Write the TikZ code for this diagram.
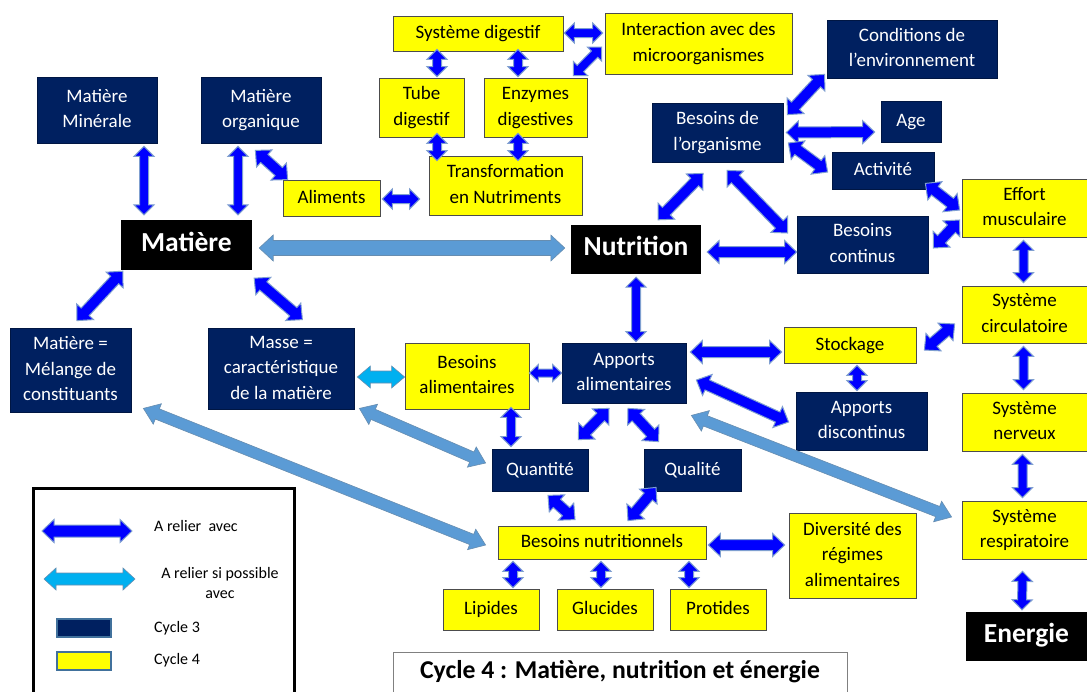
\documentclass[tikz,border=0pt]{standalone}
\usepackage{fontspec}
\setmainfont{Carlito}
\usetikzlibrary{calc}

\definecolor{navy}{HTML}{002060}
\definecolor{yel}{HTML}{FFFF00}
\definecolor{linkblue}{HTML}{0000FF}
\definecolor{linkedge}{HTML}{7F9FD0}
\definecolor{steel}{HTML}{5B9BD5}
\definecolor{steeledge}{HTML}{41719C}
\definecolor{cyanlink}{HTML}{00B0F0}

% box given by its corners (x1,y1) (x2,y2); lines are set as a strut-spaced column
\newcommand\boxat[7]{%
  \pgfmathsetmacro\bxw{#5-#3}\pgfmathsetmacro\bxh{#6-#4}%
  \pgfmathsetmacro\bxx{(#3+#5)/2}\pgfmathsetmacro\bxy{(#4+#6)/2}%
  \node[#1, minimum width=\bxw pt, minimum height=\bxh pt] (#2) at (\bxx,\bxy)
    {\begin{tabular}{@{}c@{}}#7\end{tabular}};}

% block double arrow between two points: style, A, B, head length, shaft half width, head half width
\newcommand\dblarrow[6]{%
  \filldraw[#1] (#2)
    -- ($(#2)!#4pt!(#3)!#6pt!90:(#3)$)
    -- ($(#2)!#4pt!(#3)!#5pt!90:(#3)$)
    -- ($(#3)!#4pt!(#2)!#5pt!-90:(#2)$)
    -- ($(#3)!#4pt!(#2)!#6pt!-90:(#2)$)
    -- (#3)
    -- ($(#3)!#4pt!(#2)!#6pt!90:(#2)$)
    -- ($(#3)!#4pt!(#2)!#5pt!90:(#2)$)
    -- ($(#2)!#4pt!(#3)!#5pt!-90:(#3)$)
    -- ($(#2)!#4pt!(#3)!#6pt!-90:(#3)$)
    -- cycle;}
\newcommand\linkA[2]{\dblarrow{blink}{#1}{#2}{10}{4.5}{10}}
\newcommand\linkB[2]{\dblarrow{blink}{#1}{#2}{12}{5.5}{11.5}}
\newcommand\linkS[2]{\dblarrow{slink}{#1}{#2}{15}{5.5}{11}}
\newcommand\linkM[2]{\dblarrow{slink}{#1}{#2}{14}{7.5}{13}}
\newcommand\linkC[2]{\dblarrow{clink}{#1}{#2}{13}{6}{11}}

\tikzset{
  box/.style={rectangle, inner sep=0pt, font=\fontsize{19}{25.5}\selectfont},
  c3/.style={box, fill=navy, draw=navy!70!black, text=white, line width=0.8pt},
  c4/.style={box, fill=yel, draw=black!70, text=black, line width=0.8pt},
  key/.style={box, fill=black, text=white, font=\fontsize{27.5}{30}\selectfont\bfseries},
  blink/.style={fill=linkblue, draw=linkedge, line width=1pt, line join=miter},
  slink/.style={fill=steel, draw=steeledge!80, line width=0.6pt, line join=miter},
  clink/.style={fill=cyanlink, draw=steeledge!80, line width=0.6pt, line join=miter},
  legtext/.style={inner sep=0pt, font=\fontsize{16}{20}\selectfont, align=center},
  swatch/.style={draw=steeledge, line width=1.3pt, minimum width=54pt, minimum height=18pt, inner sep=0pt}
}

\begin{document}
\begin{tikzpicture}[x=1pt,y=-1pt]
\fill[white] (0,0) rectangle (1087,691);
\useasboundingbox (0,0) rectangle (1087,691);

% ---- Matière
\boxat{c3}{minerale}{37}{77}{157}{143}{Matière\\Minérale}
\boxat{c3}{organique}{201}{77}{321}{143}{Matière\\organique}
\boxat{c4}{aliments}{283}{180}{380}{216}{Aliments}
\boxat{key}{matiere}{121}{220}{252}{270}{Matière}
\boxat{c3}{melange}{10}{328}{131}{412}{Matière =\\Mélange de\\constituants}
\boxat{c3}{masse}{208}{328}{354}{409}{Masse =\\caractéristique\\de la matière}

% ---- digestion
\boxat{c4}{sysdig}{393}{16}{563}{51}{Système digestif}
\boxat{c4}{interaction}{605}{13}{792}{74}{Interaction avec des\\microorganismes}
\boxat{c4}{tube}{379}{78}{464}{137}{Tube\\digestif}
\boxat{c4}{enzymes}{484}{78}{587}{137}{Enzymes\\digestives}
\boxat{c4}{transfo}{429}{156}{582}{215}{Transformation\\en Nutriments}

% ---- needs of the organism
\boxat{c3}{besorg}{652}{103}{783}{162}{Besoins de\\l’organisme}
\boxat{c3}{conditions}{827}{20}{997}{78}{Conditions de\\l’environnement}
\boxat{c3}{age}{881}{101}{941}{142}{Age}
\boxat{c3}{activite}{832}{152}{934}{189}{Activité}
\boxat{c3}{bescont}{797}{216}{928}{273}{Besoins\\continus}
\boxat{key}{nutrition}{571}{225}{701}{274}{Nutrition}

% ---- body systems and energy
\boxat{c4}{effort}{962}{179}{1087}{237}{Effort\\musculaire}
\boxat{c4}{circ}{962}{286}{1087}{343}{Système\\circulatoire}
\boxat{c4}{nerveux}{962}{393}{1087}{451}{Système\\nerveux}
\boxat{c4}{resp}{962}{501}{1087}{559}{Système\\respiratoire}
\boxat{key}{energie}{966}{612}{1087}{661}{Energie}

% ---- food intake
\boxat{c4}{stockage}{784}{327}{916}{363}{Stockage}
\boxat{c3}{discontinus}{796}{392}{927}{450}{Apports\\discontinus}
\boxat{c3}{apports}{562}{343}{686}{403}{Apports\\alimentaires}
\boxat{c4}{besalim}{405}{343}{529}{409}{Besoins\\alimentaires}
\boxat{c3}{quantite}{492}{449}{588}{491}{Quantité}
\boxat{c3}{qualite}{644}{449}{741}{491}{Qualité}
\boxat{c4}{besnut}{498}{526}{706}{559}{Besoins nutritionnels}
\boxat{c4}{diversite}{789}{513}{916}{598}{Diversité des\\régimes\\alimentaires}
\boxat{c4}{lipides}{443}{589}{539}{630}{Lipides}
\boxat{c4}{glucides}{557}{589}{653}{630}{Glucides}
\boxat{c4}{protides}{670}{589}{766}{630}{Protides}

% ---- title
\node[draw=black!50, line width=0.8pt, fill=white, minimum width=454pt, minimum height=40pt,
      inner sep=0pt, font=\fontsize{25.7}{28}\selectfont\bfseries] (title) at (620,672)
      {Cycle 4 : Matière, nutrition et énergie};

% ---- legend
\node[draw=black, line width=3pt, minimum width=261pt, minimum height=220pt, inner sep=0pt]
      (legend) at (163.5,598) {};
\coordinate (k1a) at (42,531);  \coordinate (k1b) at (132,531);
\coordinate (k2a) at (44,579);  \coordinate (k2b) at (135,579);
\dblarrow{blink}{k1a}{k1b}{12}{6}{11.5}
\dblarrow{clink}{k2a}{k2b}{12}{6}{11}
\node[legtext, anchor=west] (t1) at (154,526) {A relier\ \ avec};
\node[legtext] (t2) at (220,583) {A relier si possible\\avec};
\node[swatch, fill=navy] (s3) at (84,628) {};
\node[swatch, fill=yel] (s4) at (84,661) {};
\node[legtext, anchor=west] (t3) at (154,628) {Cycle 3};
\node[legtext, anchor=west] (t4) at (154,660) {Cycle 4};

% ---- connectors: matter
\linkA{[xshift=47pt,yshift=-3pt]minerale.south}{[xshift=-42.5pt,yshift=5pt]matiere.north}
\linkA{[xshift=-23pt,yshift=-3pt]organique.south}{[xshift=51.5pt,yshift=5pt]matiere.north}
\linkB{[xshift=-66pt,yshift=-7pt]organique.south east}{[xshift=5pt]aliments.north west}
\linkA{[xshift=2pt,yshift=-1pt]aliments.east}{[xshift=-9pt,yshift=-13.5pt]transfo.west}
\linkB{[xshift=2pt,yshift=-1pt]matiere.south west}{[xshift=6.5pt,yshift=7pt]melange.north}
\linkB{[xshift=2pt,yshift=-8pt]matiere.south east}{[xshift=-52pt,yshift=8pt]masse.north east}

% ---- connectors: digestion
\linkA{[xshift=-41pt,yshift=2pt]sysdig.south}{[xshift=15.5pt,yshift=1pt]tube.north}
\linkA{[xshift=40pt,yshift=2pt]sysdig.south}{[xshift=-17.5pt,yshift=1pt]enzymes.north}
\linkA{[xshift=15.5pt,yshift=4pt]tube.south}{[xshift=-68.5pt,yshift=-5pt]transfo.north}
\linkA{[xshift=-17.5pt,yshift=4pt]enzymes.south}{[xshift=12.5pt,yshift=-5pt]transfo.north}
\linkA{[xshift=1pt,yshift=0.5pt]sysdig.east}{[xshift=-2pt,yshift=10.5pt]interaction.west}
\linkA{[xshift=-3pt,yshift=-3.5pt]interaction.west}{[xshift=-14pt,yshift=2pt]enzymes.north east}

% ---- connectors: needs of the organism
\linkB{[xshift=4pt,yshift=-12pt]besorg.north east}{[xshift=-2pt,yshift=4pt]conditions.south west}
\linkB{[xshift=3pt]besorg.east}{[xshift=-6pt,yshift=-10.5pt]age.west}
\linkB{[xshift=5pt,yshift=-10.5pt]besorg.east}{[xshift=-4pt,yshift=-1.5pt]activite.west}
\linkB{[xshift=-14.5pt,yshift=-11pt]besorg.south}{[xshift=22pt,yshift=5pt]nutrition.north}
\linkB{[xshift=9.5pt,yshift=-8pt]besorg.south}{[xshift=-9pt,yshift=11.5pt]bescont.west}
\linkB{[xshift=6pt,yshift=-2.5pt]nutrition.east}{[yshift=-7.5pt]bescont.west}
\linkB{[xshift=-9pt,yshift=6pt]activite.south east}{[xshift=-2pt,yshift=-2pt]effort.west}
\linkB{[xshift=-2pt,yshift=-12pt]effort.west}{[xshift=5pt,yshift=-3.5pt]bescont.east}

% ---- connectors: body systems
\linkA{[xshift=-1pt,yshift=-3pt]effort.south}{[xshift=-1pt,yshift=3pt]circ.north}
\linkA{[xshift=-1pt,yshift=-3pt]circ.south}{[xshift=-1pt,yshift=3pt]nerveux.north}
\linkA{[xshift=-2pt,yshift=-3pt]nerveux.south}{[xshift=-2pt,yshift=3pt]resp.north}
\linkA{[xshift=-2pt,yshift=-12pt]resp.south}{[xshift=-4.5pt,yshift=2pt]energie.north}
\linkB{[xshift=-7pt,yshift=-9.5pt]circ.west}{[xshift=8pt,yshift=-5pt]stockage.east}

% ---- connectors: food intake
\linkA{[yshift=-3pt]nutrition.south}{[xshift=12pt,yshift=1pt]apports.north}
\linkB{[xshift=4pt,yshift=21pt]apports.east}{[xshift=-2pt,yshift=-7pt]stockage.west}
\linkA{[xshift=7pt,yshift=-2pt]stockage.south}{[xshift=-4.5pt,yshift=1pt]discontinus.north}
\linkB{[xshift=10pt,yshift=-7pt]apports.east}{[xshift=-7pt,yshift=-1pt]discontinus.west}
\dblarrow{blink}{[yshift=3pt]besalim.east}{apports.west}{9}{4}{8.5}
\linkC{[xshift=3pt,yshift=-8.5pt]masse.east}{[yshift=-1pt]besalim.west}
\linkA{[xshift=44pt,yshift=2pt]besalim.south}{[xshift=-29pt,yshift=2pt]quantite.north}
\linkB{[xshift=-15pt,yshift=-5pt]apports.south}{[xshift=-10pt,yshift=9pt]quantite.north east}
\linkB{[xshift=4pt,yshift=-5pt]apports.south}{[xshift=15pt,yshift=7pt]qualite.north west}
\linkB{[xshift=8pt,yshift=-4pt]quantite.south}{[xshift=-27pt,yshift=6pt]besnut.north}
\linkB{[xshift=-36.5pt,yshift=4pt]qualite.south}{[xshift=26pt,yshift=5pt]besnut.north}
\linkB{[xshift=2pt,yshift=-2.5pt]besnut.east}{[xshift=-4pt,yshift=10.5pt]diversite.west}
\linkA{[xshift=-89pt,yshift=-2pt]besnut.south}{[xshift=22pt,yshift=1pt]lipides.north}
\linkA{[xshift=-1pt,yshift=-2pt]besnut.south}{[xshift=-4pt,yshift=1pt]glucides.north}
\linkA{[xshift=87pt,yshift=-2pt]besnut.south}{[xshift=-29pt,yshift=1pt]protides.north}

% ---- long connectors
\linkM{[xshift=7pt,yshift=-3pt]matiere.east}{[xshift=-6pt,yshift=1.5pt]nutrition.west}
\linkS{[xshift=12pt,yshift=4pt]melange.south east}{[xshift=-12pt,yshift=-2.5pt]besnut.west}
\linkS{[xshift=5pt,yshift=1pt]masse.south east}{[xshift=-6pt,yshift=7pt]quantite.west}
\linkS{[xshift=5pt,yshift=-12pt]apports.south east}{[xshift=-10pt,yshift=13pt]resp.west}
\end{tikzpicture}
\end{document}
